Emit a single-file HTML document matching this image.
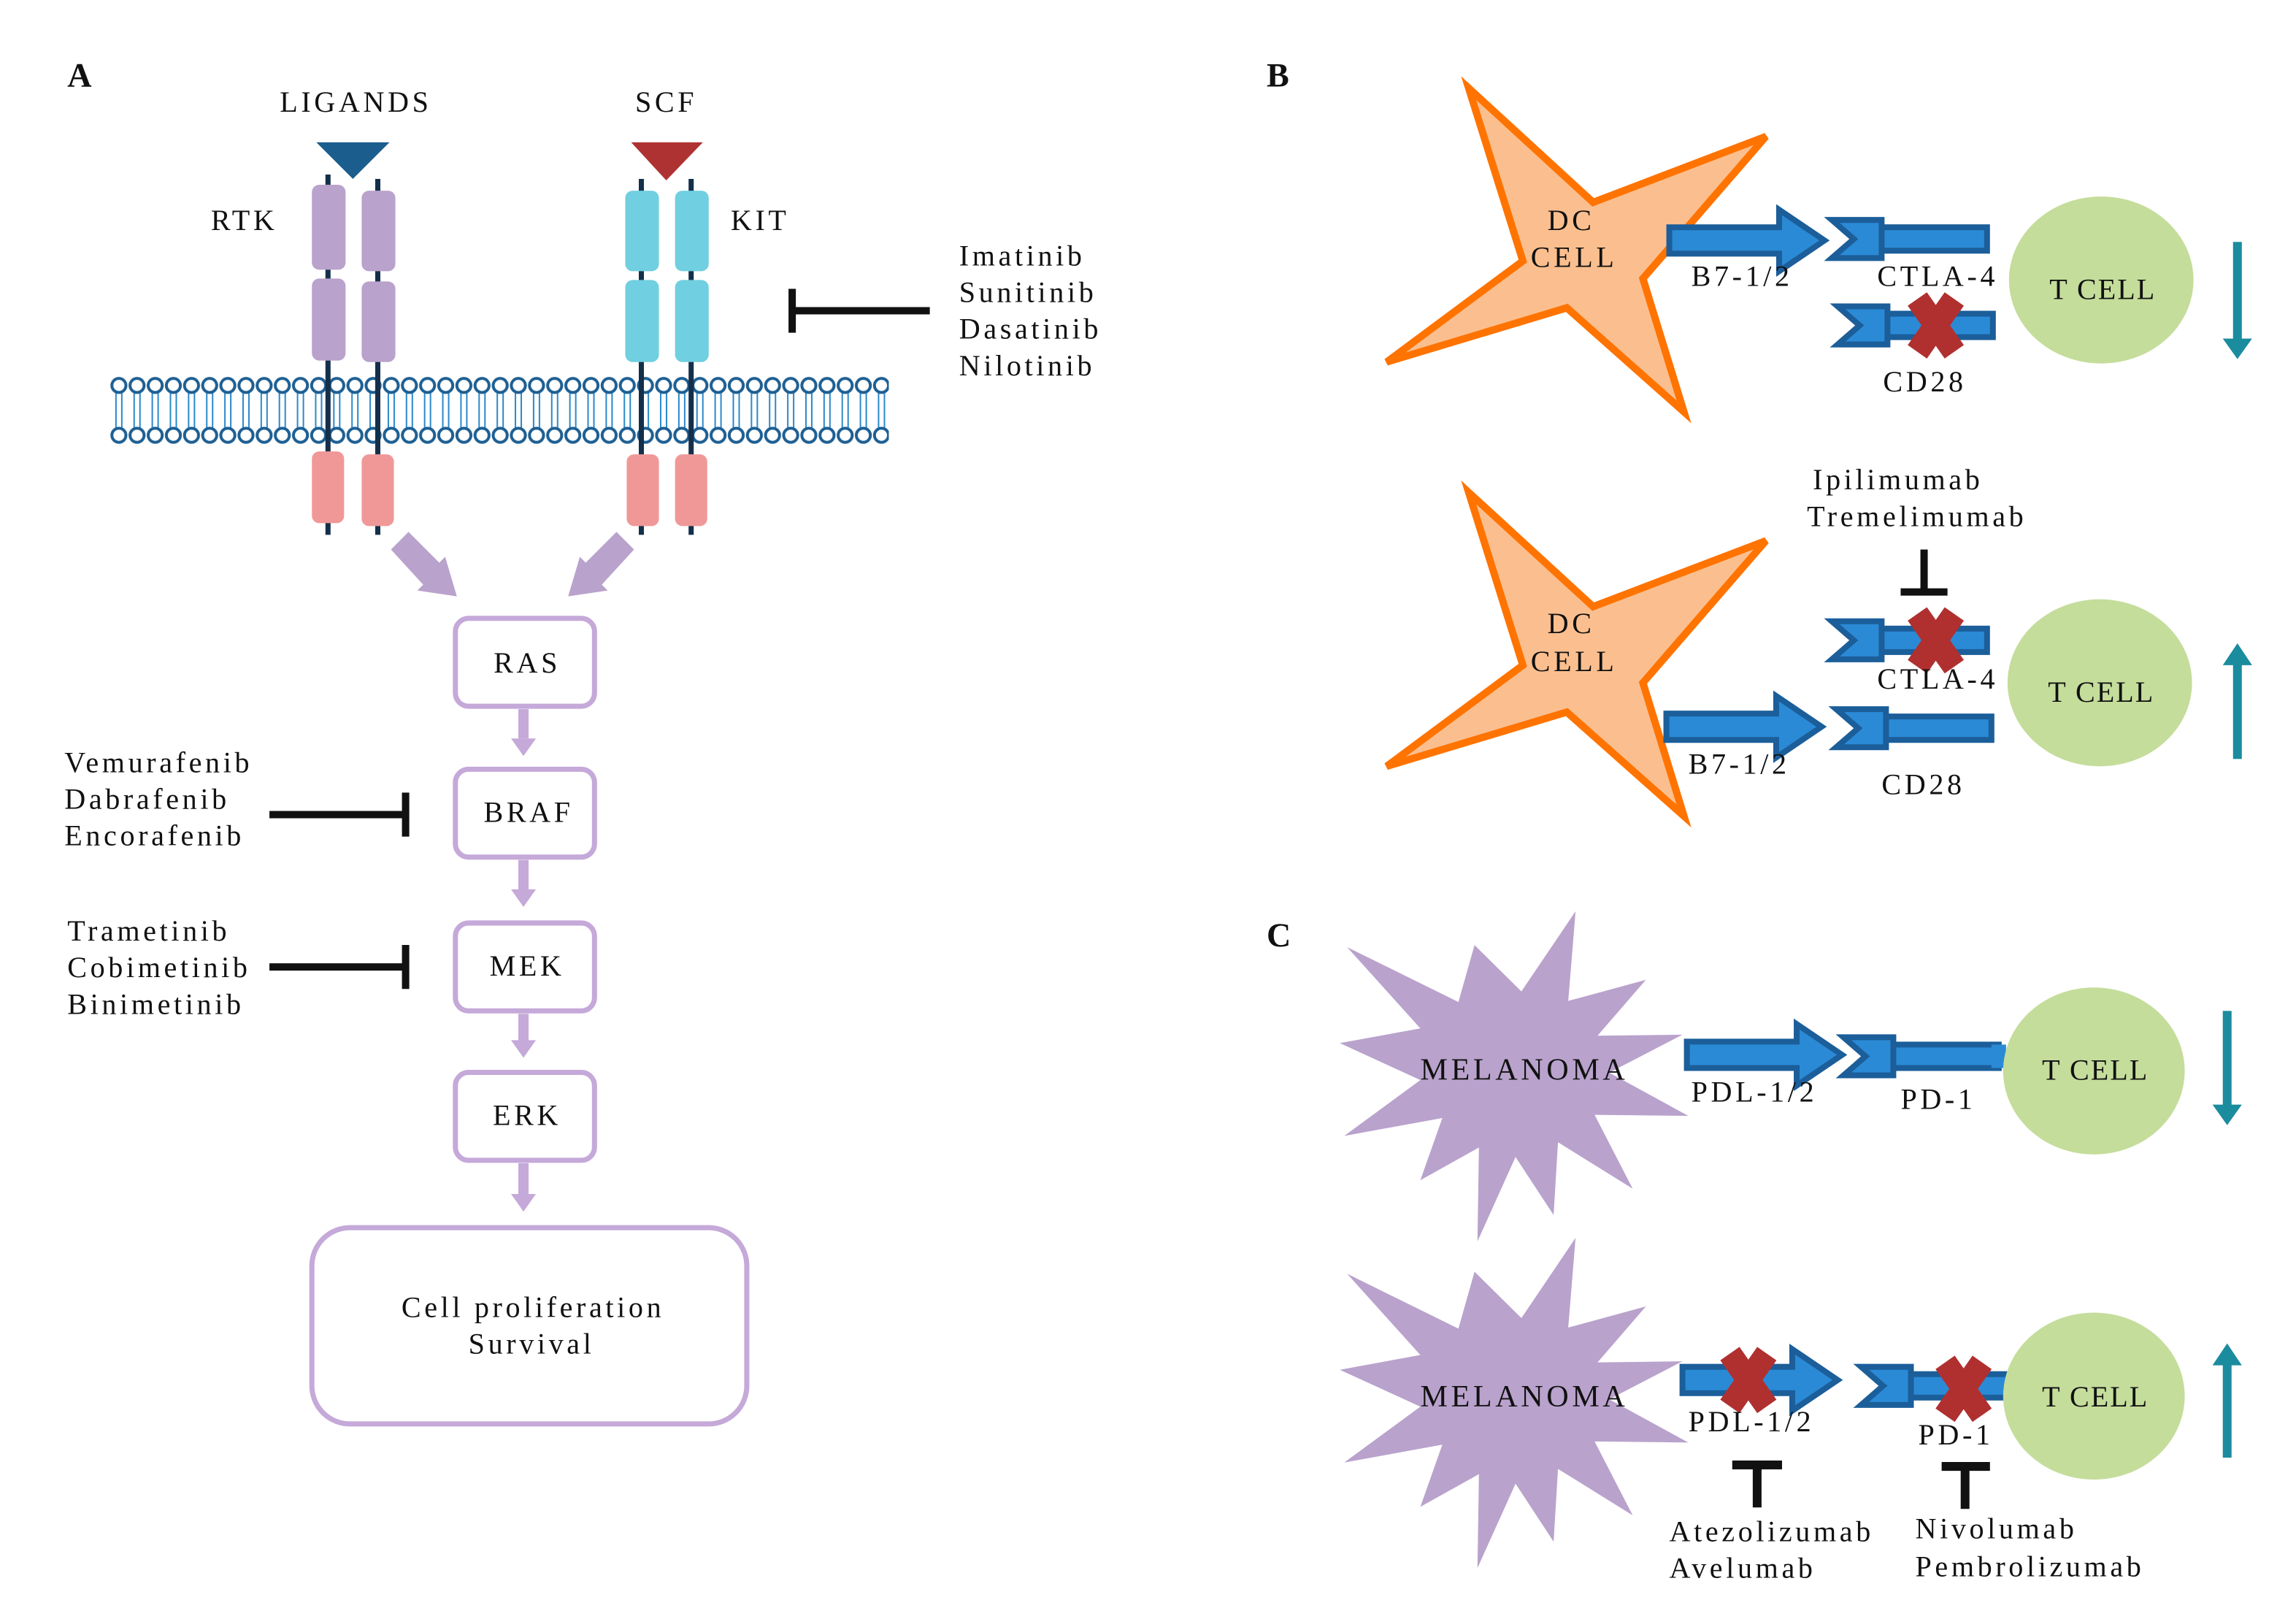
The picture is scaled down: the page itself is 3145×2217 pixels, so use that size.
<!DOCTYPE html>
<html><head><meta charset="utf-8"><style>
html,body{margin:0;padding:0;background:#fff}
svg{display:block}
text{font-family:"Liberation Serif",serif;fill:#111;letter-spacing:2.3px}
</style></head><body>
<svg width="3145" height="2217" viewBox="0 0 1568 1105" xmlns="http://www.w3.org/2000/svg">
<defs>
<pattern id="mem" x="75" y="0" width="12.4" height="1105" patternUnits="userSpaceOnUse">
<line x1="4.2" y1="266" x2="4.2" y2="294" stroke="#2a88cc" stroke-width="1"/>
<line x1="8.2" y1="266" x2="8.2" y2="294" stroke="#2a88cc" stroke-width="1"/>
<circle cx="6.2" cy="263" r="4.8" fill="#fff" stroke="#1d5f93" stroke-width="2"/>
<circle cx="6.2" cy="297" r="4.8" fill="#fff" stroke="#1d5f93" stroke-width="2"/>
</pattern>
<g id="arr"><polygon points="0,-9 75,-9 75,-21 106,0 75,21 75,9 0,9" fill="#2b8ad6" stroke="#1b5e9a" stroke-width="4" stroke-linejoin="miter"/></g>
<g id="rec"><rect x="32" y="-8" width="74" height="16" fill="#2b8ad6" stroke="#1b5e9a" stroke-width="4"/><polygon points="0,-13 34,-13 34,13 0,13 15,0" fill="#2b8ad6" stroke="#1b5e9a" stroke-width="4"/></g>
<g id="x"><rect x="-8" y="-22" width="16" height="44" fill="#b03030" transform="rotate(35)"/><rect x="-8" y="-22" width="16" height="44" fill="#b03030" transform="rotate(-35)"/></g>
<path id="star" d="M1003,60 L1088,138 L1206,93 L1122,190 L1150,281 L1070,210 L947,247 L1040,178 Z" fill="#fbbf8f" stroke="#ff7300" stroke-width="5" stroke-linejoin="miter"/>
<path id="mel" d="M920,654 L996,706 L1007,652 L1039,696 L1076,620 L1071,705 L1124,685 L1091,738 L1149,737 L1099,773 L1153,814 L1089,813 L1115,883 L1064,839 L1061,908 L1035,853 L1009,933 L1010,844 L970,875 L985,816 L918,833 L970,780 L915,745 L970,731 Z" fill="#b9a2cc"/>
</defs>

<text x="46" y="59" font-size="23" font-weight="bold" style="letter-spacing:0">A</text>
<text x="243" y="76" font-size="20" text-anchor="middle">LIGANDS</text>
<text x="455" y="76" font-size="20" text-anchor="middle">SCF</text>
<text x="144" y="157" font-size="20">RTK</text>
<text x="499" y="157" font-size="20">KIT</text>
<polygon points="216,97 266,97 241,122" fill="#1b5e8e"/>
<polygon points="431,97 480,97 455,123" fill="#ae3232"/>
<rect x="75" y="255" width="532" height="50" fill="url(#mem)"/>
<g stroke="#142f4a" stroke-width="3.5">
<line x1="224" y1="119" x2="224" y2="365"/><line x1="258" y1="122" x2="258" y2="365"/>
<line x1="438" y1="122" x2="438" y2="365"/><line x1="472" y1="122" x2="472" y2="365"/>
</g>
<g fill="#b9a2cc">
<rect x="213" y="126" width="23" height="58" rx="5"/><rect x="247" y="130" width="23" height="55" rx="5"/>
<rect x="213" y="190" width="23" height="56" rx="5"/><rect x="247" y="192" width="23" height="55" rx="5"/>
</g>
<g fill="#70cfe0">
<rect x="427" y="130" width="23" height="55" rx="5"/><rect x="461" y="130" width="23" height="55" rx="5"/>
<rect x="427" y="191" width="23" height="56" rx="5"/><rect x="461" y="191" width="23" height="56" rx="5"/>
</g>
<g fill="#f09898">
<rect x="213" y="308" width="22" height="49" rx="5"/><rect x="247" y="310" width="22" height="49" rx="5"/>
<rect x="428" y="310" width="22" height="49" rx="5"/><rect x="461" y="310" width="22" height="49" rx="5"/>
</g>
<polygon points="267,375 279,363 300,384 304,380 312,407 285,403 289,399" fill="#b9a2cc"/>
<polygon points="433,375 421,363 400,384 396,380 388,407 415,403 411,399" fill="#b9a2cc"/>
<line x1="541" y1="212" x2="635" y2="212" stroke="#111" stroke-width="5"/>
<line x1="541" y1="197" x2="541" y2="227" stroke="#111" stroke-width="5"/>
<g font-size="20"><text x="655" y="181">Imatinib</text><text x="655" y="206">Sunitinib</text><text x="655" y="231">Dasatinib</text><text x="655" y="256">Nilotinib</text></g>
<g fill="#fff" stroke="#c5a9d9" stroke-width="3.5">
<rect x="311" y="422" width="95" height="60" rx="9"/>
<rect x="311" y="525" width="95" height="60" rx="9"/>
<rect x="311" y="630" width="95" height="60" rx="9"/>
<rect x="311" y="732" width="95" height="60" rx="9"/>
<rect x="213" y="838" width="297" height="134" rx="26"/>
</g>
<g font-size="20" text-anchor="middle">
<text x="360" y="459">RAS</text><text x="361" y="561">BRAF</text><text x="360" y="666">MEK</text><text x="360" y="768">ERK</text>
<text x="364" y="899">Cell proliferation</text><text x="363" y="924">Survival</text>
</g>
<g fill="#c5a9d9">
<rect x="354" y="484" width="7" height="20"/><polygon points="349,504 366,504 357.5,516"/>
<rect x="354" y="587" width="7" height="21"/><polygon points="349,607 366,607 357.5,619"/>
<rect x="354" y="692" width="7" height="19"/><polygon points="349,710 366,710 357.5,722"/>
<rect x="354" y="794" width="7" height="22"/><polygon points="349,815 366,815 357.5,827"/>
</g>
<g stroke="#111" stroke-width="5">
<line x1="184" y1="556" x2="277" y2="556"/><line x1="277" y1="541" x2="277" y2="571"/>
<line x1="184" y1="660" x2="277" y2="660"/><line x1="277" y1="645" x2="277" y2="675"/>
</g>
<g font-size="20">
<text x="44" y="527">Vemurafenib</text><text x="44" y="552">Dabrafenib</text><text x="44" y="577">Encorafenib</text>
<text x="46" y="642">Trametinib</text><text x="46" y="667">Cobimetinib</text><text x="46" y="692">Binimetinib</text>
</g>

<text x="865" y="59" font-size="23" font-weight="bold" style="letter-spacing:0">B</text>
<use href="#star"/>
<use href="#star" transform="translate(0,276)"/>
<g font-size="20" text-anchor="middle"><text x="1073" y="157">DC</text><text x="1075" y="182">CELL</text>
<text x="1073" y="432">DC</text><text x="1075" y="458">CELL</text></g>
<use href="#arr" transform="translate(1140,164)"/>
<use href="#rec" transform="translate(1251,163)"/>
<use href="#rec" transform="translate(1255,222)"/>
<use href="#x" transform="translate(1322,222)"/>
<ellipse cx="1435" cy="191" rx="63" ry="57" fill="#c4dd9b"/>
<text x="1436" y="204" font-size="20" text-anchor="middle" style="letter-spacing:1px">T CELL</text>
<g font-size="20" style="letter-spacing:1.5px"><text x="1155" y="195">B7-1/2</text><text x="1282" y="195">CTLA-4</text><text x="1286" y="267">CD28</text></g>
<rect x="1525" y="165" width="6" height="68" fill="#1a8c9e"/><polygon points="1518,231 1538,231 1528,245" fill="#1a8c9e"/>

<g font-size="20"><text x="1238" y="334">Ipilimumab</text><text x="1234" y="359">Tremelimumab</text></g>
<line x1="1314" y1="375" x2="1314" y2="404" stroke="#111" stroke-width="5"/>
<line x1="1298" y1="404" x2="1330" y2="404" stroke="#111" stroke-width="5"/>
<use href="#rec" transform="translate(1251,437)"/>
<use href="#x" transform="translate(1322,437)"/>
<use href="#arr" transform="translate(1138,496)"/>
<use href="#rec" transform="translate(1254,497)"/>
<ellipse cx="1434" cy="466" rx="63" ry="57" fill="#c4dd9b"/>
<text x="1435" y="479" font-size="20" text-anchor="middle" style="letter-spacing:1px">T CELL</text>
<g font-size="20" style="letter-spacing:1.5px"><text x="1282" y="470">CTLA-4</text><text x="1153" y="528">B7-1/2</text><text x="1285" y="542">CD28</text></g>
<rect x="1525" y="452" width="6" height="66" fill="#1a8c9e"/><polygon points="1518,454 1538,454 1528,439" fill="#1a8c9e"/>

<text x="865" y="646" font-size="23" font-weight="bold" style="letter-spacing:0">C</text>
<use href="#mel" transform="translate(0,730) scale(1,0.72) translate(0,-770)"/>
<use href="#mel" transform="translate(0,953) scale(1,0.72) translate(0,-770)"/>
<g font-size="21" text-anchor="middle" style="letter-spacing:2px"><text x="1041" y="737">MELANOMA</text><text x="1041" y="960">MELANOMA</text></g>
<use href="#arr" transform="translate(1152,720)"/>
<use href="#rec" transform="translate(1259,721)"/>
<rect x="1360" y="713" width="10" height="16" fill="#2b8ad6"/>
<ellipse cx="1430" cy="731" rx="62" ry="57" fill="#c4dd9b"/>
<text x="1431" y="737" font-size="20" text-anchor="middle" style="letter-spacing:1px">T CELL</text>
<g font-size="20" style="letter-spacing:1.5px"><text x="1155" y="752">PDL-1/2</text><text x="1298" y="757">PD-1</text></g>
<rect x="1518" y="690" width="6" height="66" fill="#1a8c9e"/><polygon points="1511,754 1531,754 1521,768" fill="#1a8c9e"/>

<use href="#arr" transform="translate(1149,942)"/>
<use href="#x" transform="translate(1194,942)"/>
<use href="#rec" transform="translate(1271,946)"/>
<use href="#x" transform="translate(1341,948)"/>
<ellipse cx="1430" cy="953" rx="62" ry="57" fill="#c4dd9b"/>
<text x="1431" y="960" font-size="20" text-anchor="middle" style="letter-spacing:1px">T CELL</text>
<g font-size="20" style="letter-spacing:1.5px"><text x="1153" y="977">PDL-1/2</text><text x="1310" y="986">PD-1</text></g>
<rect x="1518" y="930" width="6" height="65" fill="#1a8c9e"/><polygon points="1511,932 1531,932 1521,917" fill="#1a8c9e"/>
<g stroke="#111" stroke-width="6">
<line x1="1183" y1="1000" x2="1217" y2="1000"/><line x1="1200" y1="1000" x2="1200" y2="1029"/>
<line x1="1326" y1="1001" x2="1359" y2="1001"/><line x1="1342" y1="1001" x2="1342" y2="1030"/>
</g>
<g font-size="20"><text x="1140" y="1052">Atezolizumab</text><text x="1140" y="1077">Avelumab</text>
<text x="1308" y="1050">Nivolumab</text><text x="1308" y="1076">Pembrolizumab</text></g>
</svg>
</body></html>
